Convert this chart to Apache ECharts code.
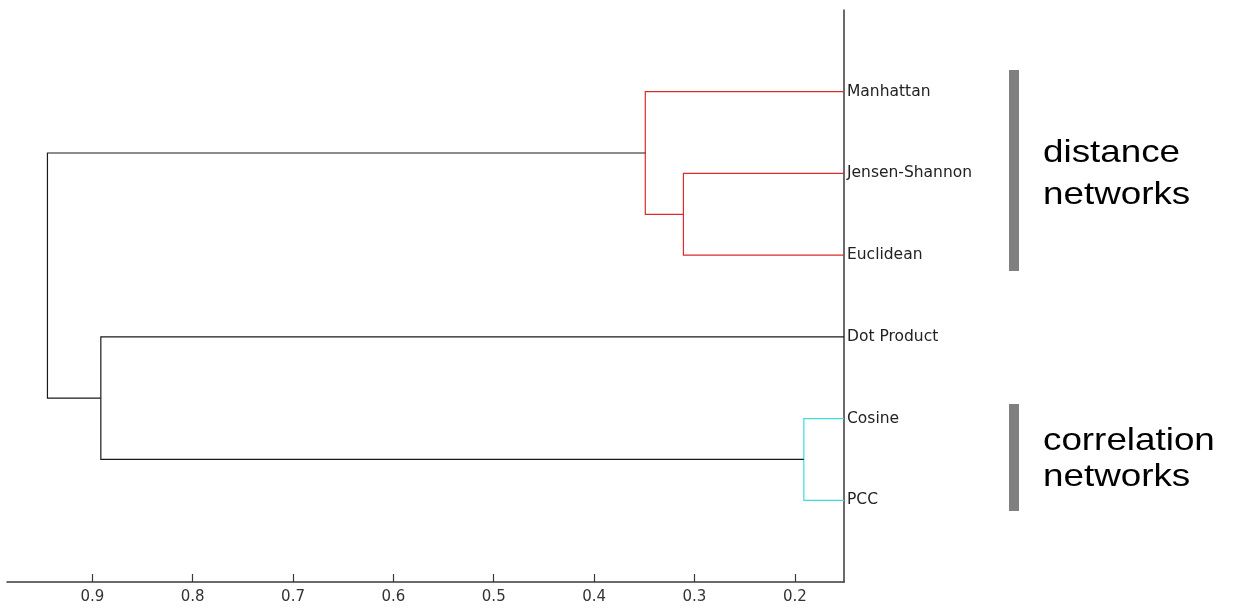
<!DOCTYPE html>
<html>
<head>
<meta charset="utf-8">
<title>Network similarity dendrogram</title>
<script src="https://cdn.jsdelivr.net/npm/echarts/dist/echarts.min.js"></script>
<style>
  html, body { margin: 0; padding: 0; background: #fff; }
  #chart { width: 1234px; height: 613px; }
</style>
</head>
<body>
<div id="chart"></div>
<script>
// Leaves, listed bottom to top (leaf k sits at y = k)
const leafNames = ['PCC', 'Cosine', 'Dot Product', 'Euclidean', 'Jensen-Shannon', 'Manhattan'];

// Linkage table: node ids 1..6 are leaves, 7.. are merges in order
const mergeFirst  = [2, 4, 6, 3, 9];
const mergeSecond = [1, 5, 8, 7, 10];
const mergeHeight = [0.191, 0.311, 0.349, 0.8915, 0.9447];
const mergeColor  = ['#3fdcdc', '#dd2a2a', '#dd2a2a', '#1a1a1a', '#1a1a1a'];

// Distance axis ticks
const tickValues = [0.2, 0.3, 0.4, 0.5, 0.6, 0.7, 0.8, 0.9];

// Group annotations
const groupLabels = [
  ['distance', 'networks'],
  ['correlation', 'networks']
];

// Resolve node positions (y) and heights (x)
const nodeY = {};
const nodeH = {};
leafNames.forEach((_, i) => { nodeY[i + 1] = i + 1; nodeH[i + 1] = 0; });
const linkData = mergeHeight.map((h, k) => {
  const a = mergeFirst[k], b = mergeSecond[k];
  const id = leafNames.length + k + 1;
  nodeY[id] = (nodeY[a] + nodeY[b]) / 2;
  nodeH[id] = h;
  return {
    value: [nodeH[a], nodeY[a], h, nodeY[b], nodeH[b]],
    itemStyle: { color: mergeColor[k] }
  };
});

const chart = echarts.init(document.getElementById('chart'), null, { renderer: 'canvas' });

const textFont = '32px "Liberation Sans", Arial, sans-serif';
const textStretch = 1.15;

chart.setOption({
  animation: false,
  backgroundColor: '#ffffff',
  grid: { left: 7, right: 390, top: 10, bottom: 31, containLabel: false },
  xAxis: {
    type: 'value',
    inverse: true,
    min: 0.151,
    max: 0.985,
    splitLine: { show: false },
    axisLine: { show: true, onZero: false, lineStyle: { color: '#3a3a3a', width: 1.5 } },
    axisTick: { show: true, inside: true, length: 8, customValues: tickValues,
      lineStyle: { color: '#3a3a3a', width: 1.2 } },
    axisLabel: {
      customValues: tickValues,
      formatter: v => v.toFixed(1),
      margin: 8,
      color: '#333',
      fontFamily: '"DejaVu Sans", sans-serif',
      fontSize: 15
    }
  },
  yAxis: {
    type: 'value',
    position: 'right',
    min: 0,
    max: 7,
    splitLine: { show: false },
    axisLine: { show: true, onZero: false, lineStyle: { color: '#3a3a3a', width: 1.5 } },
    axisTick: { show: false },
    axisLabel: {
      customValues: leafNames.map((_, i) => i + 1),
      formatter: v => leafNames[Math.round(v) - 1],
      margin: 3,
      color: '#222',
      fontFamily: '"DejaVu Sans", sans-serif',
      fontSize: 15.5
    }
  },
  series: [{
    type: 'custom',
    clip: true,
    data: linkData,
    renderItem: (params, api) => {
      const p0 = api.coord([api.value(0), api.value(1)]);
      const p1 = api.coord([api.value(2), api.value(1)]);
      const p2 = api.coord([api.value(2), api.value(3)]);
      const p3 = api.coord([api.value(4), api.value(3)]);
      return {
        type: 'polyline',
        shape: { points: [p0, p1, p2, p3] },
        style: { stroke: api.visual('color'), lineWidth: 1.2, fill: null }
      };
    }
  }],
  graphic: [
    { type: 'rect', shape: { x: 1009, y: 70, width: 10, height: 201 }, style: { fill: '#808080' } },
    { type: 'rect', shape: { x: 1009, y: 404, width: 10, height: 107 }, style: { fill: '#808080' } },
    { type: 'text', x: 1043, y: 153, scaleX: textStretch,
      style: { text: groupLabels[0][0], font: textFont, fill: '#000', verticalAlign: 'middle' } },
    { type: 'text', x: 1043, y: 195, scaleX: textStretch,
      style: { text: groupLabels[0][1], font: textFont, fill: '#000', verticalAlign: 'middle' } },
    { type: 'text', x: 1043, y: 441, scaleX: textStretch,
      style: { text: groupLabels[1][0], font: textFont, fill: '#000', verticalAlign: 'middle' } },
    { type: 'text', x: 1043, y: 477, scaleX: textStretch,
      style: { text: groupLabels[1][1], font: textFont, fill: '#000', verticalAlign: 'middle' } }
  ]
});
</script>
</body>
</html>
